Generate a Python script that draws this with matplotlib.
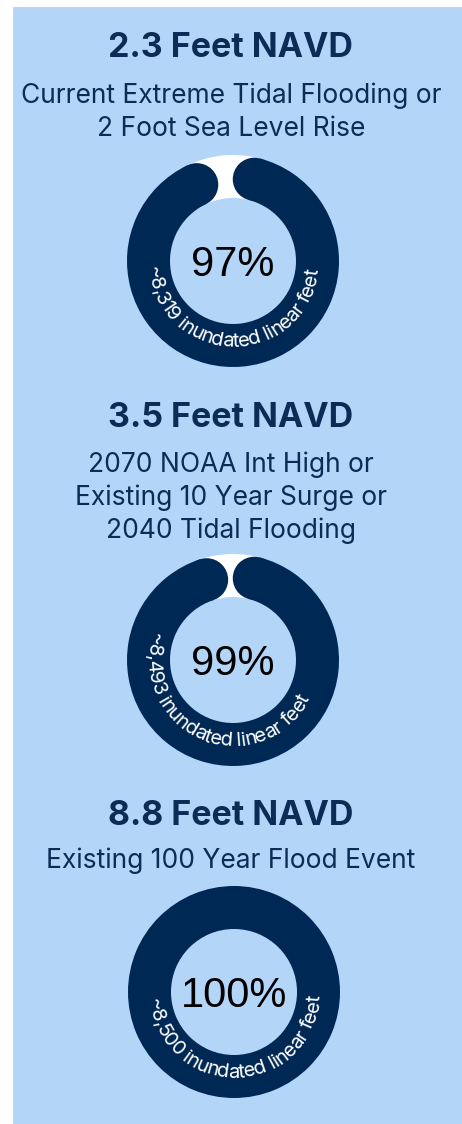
import numpy as np
import matplotlib.pyplot as plt
from matplotlib.patches import Wedge, Circle, Rectangle
from matplotlib.font_manager import FontProperties, findfont, get_font

''' data '''
titles = ["2.3 Feet NAVD", "3.5 Feet NAVD", "8.8 Feet NAVD"]
subtitles = [["Current Extreme Tidal Flooding or", "2 Foot Sea Level Rise"],
             ["2070 NOAA Int High or", "Existing 10 Year Surge or", "2040 Tidal Flooding"],
             ["Existing 100 Year Flood Event"]]
percents = [97, 99, 100]
linear_feet = ["8,319", "8,493", "8,500"]

''' layout / style '''
W, H = 462, 1124
navy = "#002855"
text_navy = "#0c2b55"
bg = "#b3d5f8"

title_y = [57, 427, 825]     # baselines, px from top
sub_y0 = [103, 472, 868]
sub_dy = 33
ring_c = [(233, 261), (233, 660), (234, 992)]
r_out, r_in = 106, 63
r_txt = 86                   # baseline radius of curved label
arc_mid = [269, 247, 271]    # angle of the curved label centre
fam = ['Inter', 'DejaVu Sans']
fs_arc = 14.5
tracking = 0.96

fig = plt.figure(figsize=(W / 100, H / 100), dpi=100)
ax = fig.add_axes([0, 0, 1, 1])
ax.set_xlim(0, W)
ax.set_ylim(0, H)
ax.axis('off')
ax.add_patch(Rectangle((13, 0), W - 13, H - 7, color=bg, lw=0))


def ring(cx, cy, pct):
    w = r_out - r_in
    rm = (r_out + r_in) / 2
    if pct >= 100:
        ax.add_patch(Wedge((cx, cy), r_out, 0, 360, width=w, color=navy, lw=0))
        return
    sweep = 360 * pct / 100
    cap = np.degrees((w / 2) / rm)
    a_start = 90 - cap
    a_end = 90 - sweep + cap
    # white track for the remainder
    ax.add_patch(Wedge((cx, cy), r_out, a_start, a_end + 360, width=w, color='white', lw=0))
    ax.add_patch(Wedge((cx, cy), r_out, a_end, a_start, width=w, color=navy, lw=0))
    for a in (a_start, a_end):
        ax.add_patch(Circle((cx + rm * np.cos(np.radians(a)), cy + rm * np.sin(np.radians(a))),
                            w / 2, color=navy, lw=0))


def curved_text(cx, cy, s, mid_deg):
    fp = FontProperties(family=fam, size=fs_arc)
    font = get_font(findfont(FontProperties(family='Inter', size=fs_arc)))
    font.set_size(fs_arc, 100)
    adv = np.array([font.load_char(ord(c)).linearHoriAdvance / 65536 for c in s]) * tracking
    L = adv.sum()
    centers = np.cumsum(adv) - adv / 2
    for c, pos in zip(s, centers):
        th = np.radians(mid_deg) + (pos - L / 2) / r_txt
        ax.text(cx + r_txt * np.cos(th), cy + r_txt * np.sin(th), c,
                rotation=np.degrees(th) + 90, rotation_mode='anchor',
                ha='center', va='baseline', color='white', fontproperties=fp)


for i in range(3):
    ax.text(W / 2, H - title_y[i], titles[i], ha='center', va='baseline',
            family=fam, fontweight='bold', fontsize=24.5, color=text_navy)
    for j, line in enumerate(subtitles[i]):
        ax.text(W / 2, H - (sub_y0[i] + j * sub_dy), line, ha='center', va='baseline',
                family=fam, fontsize=19, color=text_navy)
    cx, cy = ring_c[i]
    ring(cx, H - cy, percents[i])
    curved_text(cx, H - cy, "~" + linear_feet[i] + " inundated linear feet", arc_mid[i])
    ax.text(cx, H - cy - 15, "%d%%" % percents[i], ha='center', va='baseline',
            family=['Liberation Sans', 'DejaVu Sans'], fontsize=30, color='black')

fig.savefig('out.png', dpi=100, facecolor='white')
